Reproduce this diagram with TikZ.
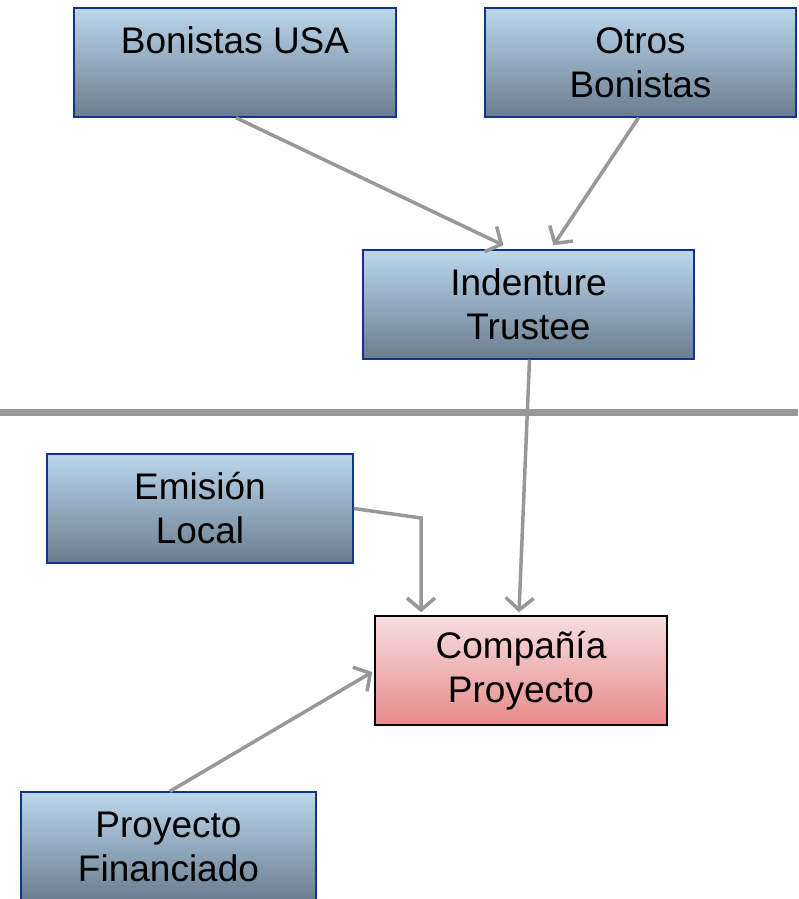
\documentclass[tikz,border=0pt]{standalone}
\usepackage{fontspec}
\setmainfont{Liberation Sans}
\usetikzlibrary{arrows.meta}
\definecolor{bluetop}{RGB}{188,214,236}
\definecolor{bluebot}{RGB}{106,125,143}
\definecolor{blueedge}{RGB}{18,52,140}
\definecolor{pinktop}{RGB}{246,222,224}
\definecolor{pinkbot}{RGB}{232,138,138}
\definecolor{arrowgray}{RGB}{152,152,152}
\begin{document}
\begin{tikzpicture}[x=1pt,y=-1pt,
  boxbase/.style={draw, line width=1.5pt, align=center, inner sep=0pt,
    minimum height=109pt, font=\fontsize{37}{44}\selectfont},
  bluebox/.style={boxbase, draw=blueedge, top color=bluetop, bottom color=bluebot},
  pinkbox/.style={boxbase, draw=black, top color=pinktop, bottom color=pinkbot},
  conn/.style={draw=arrowgray, line width=3.5pt, -{Straight Barb[length=12pt,width=28pt,line width=3.5pt]}},
  sepline/.style={draw=arrowgray, line width=7pt}]
\useasboundingbox (0,0) rectangle (798,899);
\node[bluebox, minimum width=322pt] (usa) at (235,62.5) {Bonistas USA\\ ~};
\node[bluebox, minimum width=311pt] (otros) at (640.5,62.5) {Otros\\Bonistas};
\node[bluebox, minimum width=331pt] (trustee) at (528.5,304.5) {Indenture\\Trustee};
\node[bluebox, minimum width=306pt] (emision) at (200,508.5) {Emisión\\Local};
\node[pinkbox, minimum width=292pt] (compania) at (521,670.5) {Compañía\\Proyecto};
\node[bluebox, minimum width=295pt] (proyfin) at (168.5,846.5) {Proyecto\\Financiado};
\coordinate (sepL) at (0,412);
\coordinate (sepR) at (798,412);
\draw[sepline] (sepL) -- (sepR);
\coordinate (bend) at (421,518);
\draw[conn] ([xshift=1pt]usa.south) -- ([xshift=-25pt,yshift=4pt]trustee.north);
\draw[conn] ([xshift=-2pt]otros.south) -- ([xshift=25pt,yshift=4pt]trustee.north);
\draw[conn] ([xshift=1pt]trustee.south) -- ([xshift=-2pt,yshift=3pt]compania.north);
\draw[conn] (emision.east) -- (bend) -- ([xshift=-100pt,yshift=3pt]compania.north);
\draw[conn] ([xshift=1.5pt]proyfin.north) -- ([xshift=-2pt,yshift=-1.5pt]compania.west);
\end{tikzpicture}
\end{document}
